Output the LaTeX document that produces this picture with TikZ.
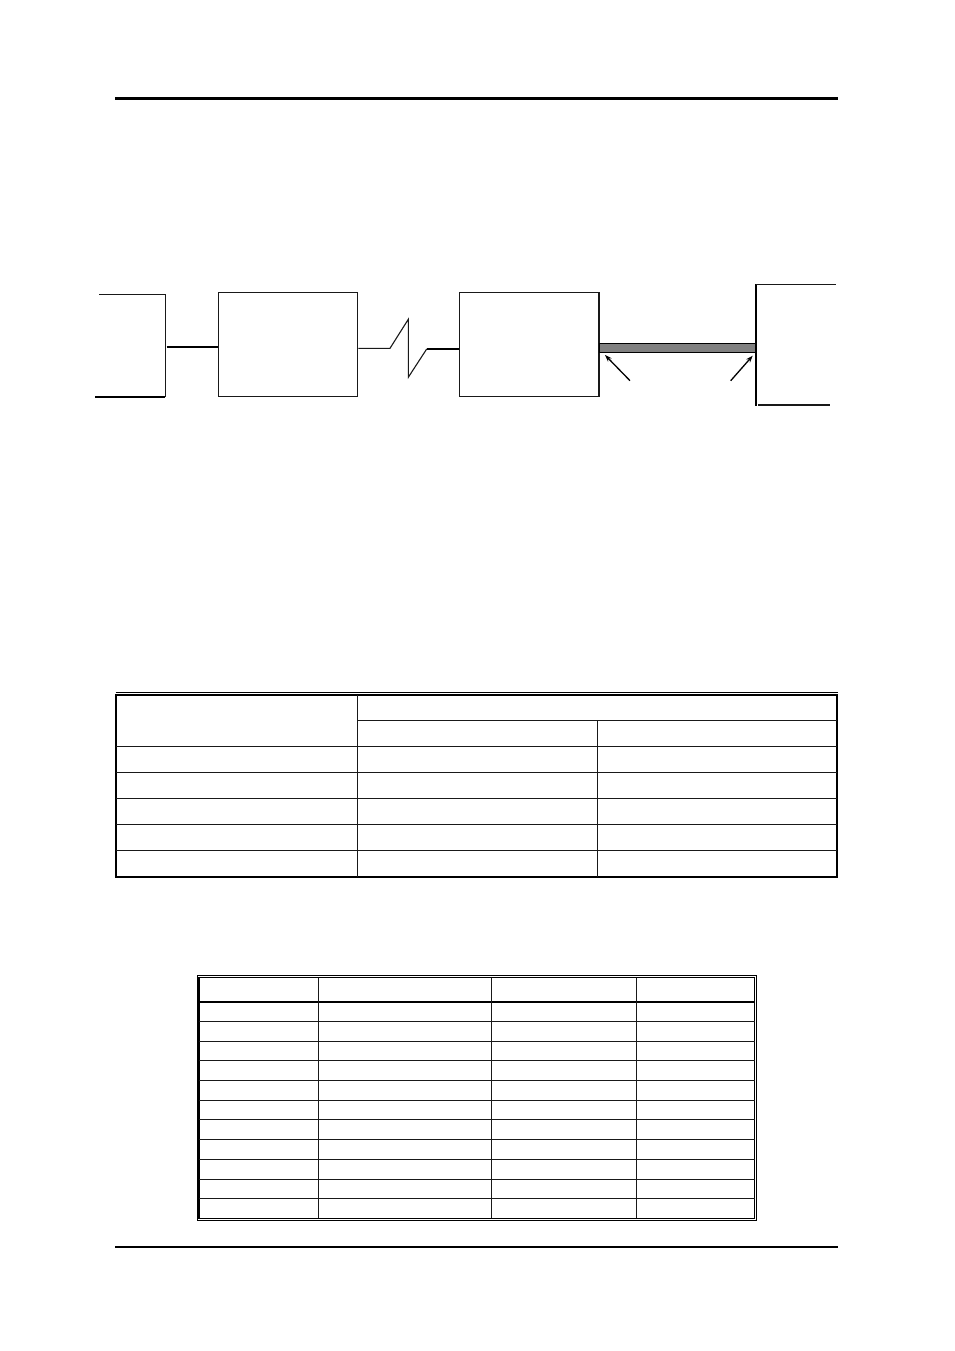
\documentclass[tikz,border=0pt]{standalone}
\usetikzlibrary{arrows.meta}
\begin{document}
\begin{tikzpicture}[x=1pt,y=-1pt,
  thin line/.style={line width=1.1pt,draw=black!90},
  thick line/.style={line width=2.2pt,draw=black},
  blockbox/.style={draw=black!90,line width=1.2pt,rectangle,inner sep=0pt,minimum width=139.4pt,minimum height=104pt},
  rule/.style={line width=1.2pt,draw=black!90},
  pointer/.style={line width=1.3pt,-{Stealth[length=7pt,width=5pt]}}]
\useasboundingbox (0,0) rectangle (954,1351);
\fill[white] (0,0) rectangle (954,1351);
% header / footer rules
\draw[line width=3pt] (115,99) -- (838,99);
\draw[line width=2.2pt] (115,1247) -- (838,1247);

% ---- diagram ----
\coordinate (lbT1) at (99,294.3);
\coordinate (lbT2) at (165.6,294.3);
\coordinate (lbB1) at (95,396.7);
\coordinate (lbB2) at (165.6,396.7);
\draw[thin line] (lbT1) -- (lbT2) -- (lbB2);
\draw[thick line] (lbB1) -- (164.5,396.7);
\node[blockbox] (b1) at (288,344.3) {};
\node[blockbox] (b2) at (529.3,344.3) {};
\coordinate (c1) at (166.5,347);
\draw[thick line] (c1) -- (c1 -| b1.west);
% zigzag link
\coordinate (z0) at (b1.east |- 0,348.3);
\coordinate (z1) at (390,348.3);
\coordinate (z2) at (408.3,319.3);
\coordinate (z3) at (408.3,377.3);
\coordinate (z4) at (426.7,349);
\draw[thin line,line join=miter] (z0) -- (z1) -- (z2) -- (z3) -- (z4);
\draw[thick line] (z4) -- (z4 -| b2.west);
% gray cable
\node[draw=black,line width=1pt,fill=black!50,inner sep=0pt,minimum width=156.4pt,minimum height=9pt,anchor=west] (cable) at (599.3,347.8) {};
% right bracket
\coordinate (rbT) at (755.7,284.3);
\coordinate (rbB) at (755.7,405.7);
\draw[thick line] (rbT) -- (rbB);
\coordinate (rbT2) at (835.7,284.3);
\draw[thin line] (rbT) -- (rbT2);
\coordinate (rbB1) at (758.3,405);
\coordinate (rbB2) at (830,405);
\draw[thin line] (rbB1) -- (rbB2);
% arrows
\coordinate (a1s) at (630,380.7);
\coordinate (a1e) at (605,355);
\coordinate (a2s) at (730.7,380.7);
\coordinate (a2e) at (752.7,355.7);
\draw[pointer] (a1s) -- (a1e);
\draw[pointer] (a2s) -- (a2e);

% ---- table 1 ----
\draw[line width=0.8pt] (115.5,692.2) -- (838,692.2);
\draw[line width=2pt] (116.2,694.5) rectangle (837.2,877.2);
\draw[rule] (357.3,694.5) -- (357.3,877.2);
\draw[rule] (357.3,720.3) -- (837.2,720.3);
\draw[rule] (597.3,720.3) -- (597.3,877.2);
\foreach \y in {746.3,772.3,798.3,824.3,850.7}
  \draw[rule] (116.2,\y) -- (837.2,\y);

% ---- table 2 ----
\draw[line width=0.8pt] (197.3,975.7) rectangle (756,1220);
\draw[line width=1.3pt] (199,977.7) rectangle (754.5,1218.3);
\draw[line width=2.3pt] (199,1001.7) -- (754.5,1001.7);
\foreach \x in {318.3,491.3,636.3}
  \draw[rule] (\x,977.7) -- (\x,1218.3);
\foreach \y in {1021.3,1041.3,1060.7,1080.7,1100.3,1119.3,1139.3,1159.3,1179.3,1198.3}
  \draw[rule] (199,\y) -- (754.5,\y);
\end{tikzpicture}
\end{document}
